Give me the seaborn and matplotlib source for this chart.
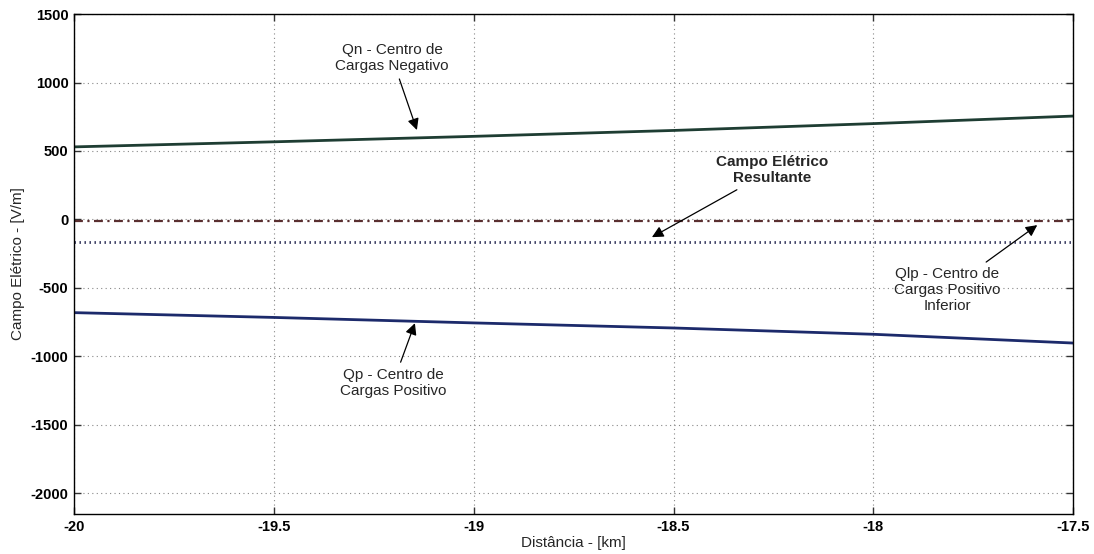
import matplotlib
matplotlib.use("Agg")
import matplotlib.pyplot as plt
import seaborn as sns
import numpy as np
import pandas as pd

# Distance along the ground [km]
distancia = [-20.0, -19.5, -19.0, -18.5, -18.0, -17.5]

# Electric field contributions [V/m]
campo_qn = [530, 567, 607, 650, 700, 755]          # negative charge centre
campo_qp = [-680, -715, -755, -792, -838, -902]    # positive charge centre
campo_qlp = [-165, -165, -165, -165, -165, -165]   # lower positive charge centre
campo_res = [-10, -10, -10, -10, -10, -10]         # resulting field

y_ticks = [-2000, -1500, -1000, -500, 0, 500, 1000, 1500]
x_ticks = [-20, -19.5, -19, -18.5, -18, -17.5]
x_tick_labels = ["-20", "-19.5", "-19", "-18.5", "-18", "-17.5"]

sns.set_style("white")
plt.rcParams["font.family"] = ["Liberation Sans", "DejaVu Sans"]

fig = plt.figure(figsize=(10.94, 5.54), dpi=100)
ax = fig.add_axes([0.0676, 0.0722, 0.9134, 0.9025])

df = pd.DataFrame({
    "x": distancia,
    "qn": campo_qn,
    "qp": campo_qp,
    "qlp": campo_qlp,
    "res": campo_res,
})

sns.lineplot(data=df, x="x", y="qn", ax=ax, color="#1e3d33", lw=2.0)
sns.lineplot(data=df, x="x", y="qp", ax=ax, color="#1c2a6b", lw=2.0)
sns.lineplot(data=df, x="x", y="qlp", ax=ax, color="#2a2d55", lw=2.0,
             linestyle=(0, (0.5, 1.3)))
sns.lineplot(data=df, x="x", y="res", ax=ax, color="#5a2f30", lw=1.6,
             linestyle=(0, (4, 2, 1, 2)))

ax.set_xlim(-20, -17.5)
ax.set_ylim(-2150, 1500)
ax.set_xticks(x_ticks)
ax.set_xticklabels(x_tick_labels)
ax.set_yticks(y_ticks)
ax.set_yticklabels([str(v) for v in y_ticks])

ax.grid(True, color="#888888", linestyle=(0, (1, 3)), lw=0.8)
for sp in ax.spines.values():
    sp.set_visible(True)
    sp.set_color("black")
    sp.set_linewidth(1.0)

ax.tick_params(direction="in", length=5, width=1, colors="#333333",
               labelcolor="black", labelsize=10.5, top=True, right=True,
               left=True, bottom=True, pad=4)
for lab in ax.get_xticklabels() + ax.get_yticklabels():
    lab.set_fontweight("bold")

ax.set_xlabel("Distância - [km]", fontsize=11, labelpad=2)
ax.set_ylabel("Campo Elétrico - [V/m]", fontsize=11, labelpad=4)

arrow = dict(arrowstyle="-|>", color="black", lw=0.9, mutation_scale=17,
             shrinkA=2, shrinkB=0)
txt = dict(ha="center", va="center", multialignment="center",
           fontsize=11, linespacing=1.2)

ax.annotate("Qn - Centro de\nCargas Negativo", xy=(-19.142, 653),
            xytext=(-19.204, 1179), arrowprops=arrow, **txt)
ax.annotate("Campo Elétrico\nResultante", xy=(-18.554, -129),
            xytext=(-18.253, 361), arrowprops=arrow, fontweight="bold", **txt)
ax.annotate("Qlp - Centro de\nCargas Positivo\nInferior", xy=(-17.590, -41),
            xytext=(-17.815, -516), arrowprops=arrow, **txt)
ax.annotate("Qp - Centro de\nCargas Positivo", xy=(-19.147, -757),
            xytext=(-19.202, -1195), arrowprops=arrow, **txt)

fig.savefig("out.png", dpi=100)
